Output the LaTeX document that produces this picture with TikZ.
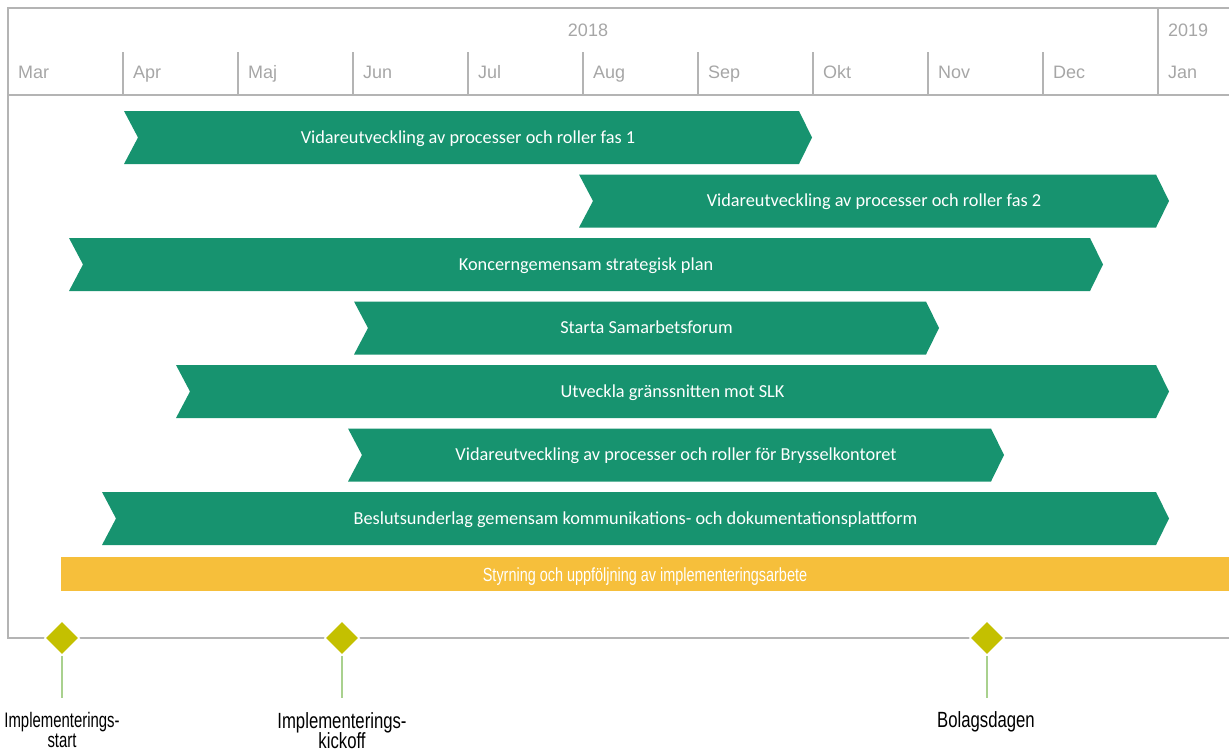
\documentclass[tikz,border=0pt]{standalone}
\usepackage{fontspec}
\usetikzlibrary{shapes.geometric}
\newfontfamily\hdrfont{Liberation Sans}
\newfontfamily\barfont{Carlito}
\newfontfamily\narrowfont[FakeStretch=0.76]{Liberation Sans}
\newfontfamily\startfont[FakeStretch=0.71]{Liberation Sans}
\definecolor{bargreen}{HTML}{17936F}
\definecolor{gridgrey}{HTML}{B4B4B4}
\definecolor{labelgrey}{HTML}{A6A6A6}
\definecolor{ganttyellow}{HTML}{F6BF3B}
\definecolor{milestonefill}{HTML}{C4C000}
\definecolor{stemgreen}{HTML}{A9D18E}

\tikzset{
  gridline/.style={draw=gridgrey, line width=1.4pt},
  monthlabel/.style={anchor=base west, inner sep=0pt, text=labelgrey, font=\hdrfont\fontsize{18}{21}\selectfont},
  barfill/.style={fill=bargreen},
  bartext/.style={anchor=base, inner sep=0pt, text=white, font=\barfont\fontsize{18.3}{21}\selectfont},
  yellowtext/.style={anchor=base, inner sep=0pt, text=white, font=\narrowfont\fontsize{19}{22}\selectfont},
  mstone/.style={diamond, aspect=1, fill=milestonefill, draw=white, line width=1.5pt,
                 minimum width=35pt, minimum height=35pt, inner sep=0pt},
  stem/.style={draw=stemgreen, line width=1.4pt},
  mslabel/.style={anchor=base, inner sep=0pt, text=black, font=\narrowfont\fontsize{22}{26}\selectfont},
  mslabelsmall/.style={anchor=base, inner sep=0pt, text=black, font=\startfont\fontsize{21}{25}\selectfont},
}

% chevron-shaped activity bar: name, left x, tip x, top y, text
\newcommand\chevbar[5]{%
  \fill[barfill] (#2,#4) -- (#3-13,#4) -- (#3,#4+26.5) -- (#3-13,#4+53)
        -- (#2,#4+53) -- (#2+14,#4+26.5) -- cycle;
  \node[bartext] (#1) at ({(#2+#3)/2},#4+32) {#5};%
}

\begin{document}
\begin{tikzpicture}[x=1pt, y=-1pt]
\useasboundingbox (0,0) rectangle (1229,753);

% timeline frame and header
\draw[gridline] (1229,8) -- (8,8) -- (8,638) -- (1229,638);
\draw[gridline] (8,95) -- (1229,95);
\draw[gridline] (1158,8) -- (1158,95);
\foreach \i in {1,...,9}
  \draw[gridline] (8+115*\i,52) -- (8+115*\i,95);

\node[monthlabel, anchor=base] (y2018) at (588,36.5) {2018};
\node[monthlabel] (y2019) at (1168,36.5) {2019};
\foreach \m [count=\i from 0] in {Mar,Apr,Maj,Jun,Jul,Aug,Sep,Okt,Nov,Dec,Jan}
  \node[monthlabel] (m\i) at (18+115*\i,78.5) {\m};

% activities
\chevbar{a1}{124}{812}{111}{Vidareutveckling av processer och roller fas 1}
\chevbar{a2}{579}{1169}{174.5}{Vidareutveckling av processer och roller fas 2}
\chevbar{a3}{69}{1103}{238}{Koncerngemensam strategisk plan}
\chevbar{a4}{354}{939}{301.5}{Starta Samarbetsforum}
\chevbar{a5}{176}{1169}{365}{Utveckla gränssnitten mot SLK}
\chevbar{a6}{348}{1004}{428.5}{Vidareutveckling av processer och roller för Brysselkontoret}
\chevbar{a7}{102}{1169}{492}{Beslutsunderlag gemensam kommunikations- och dokumentationsplattform}

\fill[ganttyellow] (61,557) rectangle (1229,591);
\node[yellowtext] (steer) at (645,581) {Styrning och uppföljning av implementeringsarbete};

% milestones
\node[mstone] (ms1) at (62,638) {};
\node[mstone] (ms2) at (342,638) {};
\node[mstone] (ms3) at (987,638) {};
\coordinate (ms1end) at (62,698);
\coordinate (ms2end) at (342,698);
\coordinate (ms3end) at (987,698);
\draw[stem] (ms1.south) -- (ms1end);
\draw[stem] (ms2.south) -- (ms2end);
\draw[stem] (ms3.south) -- (ms3end);

\node[mslabelsmall] (ms1a) at (62,727) {Implementerings-};
\node[mslabelsmall] (ms1b) at (62,747) {start};
\node[mslabel] (ms2a) at (342,728) {Implementerings-};
\node[mslabel] (ms2b) at (342,748.5) {kickoff};
\node[mslabel] (ms3a) at (986,727) {Bolagsdagen};
\end{tikzpicture}
\end{document}
